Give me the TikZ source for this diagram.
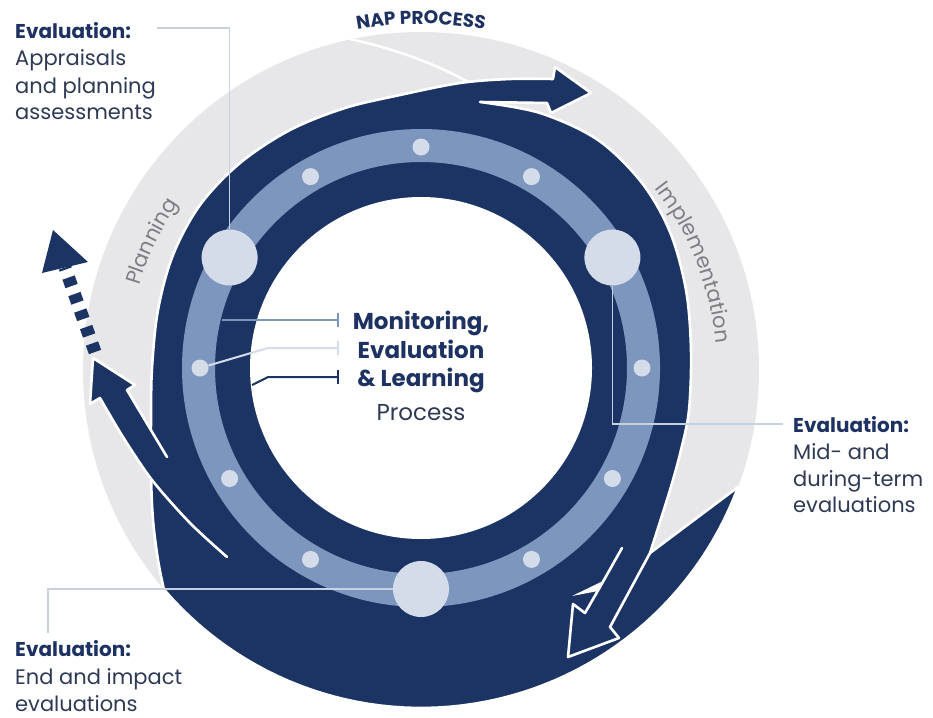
\documentclass[tikz,border=0pt]{standalone}
\usepackage{fontspec}
\setmainfont{Poppins}
\usetikzlibrary{decorations.text}

\definecolor{navy}{HTML}{1C3463}
\definecolor{ringblue}{HTML}{7D96BE}
\definecolor{dotpale}{HTML}{D4DCE9}
\definecolor{discgrey}{HTML}{E7E7E9}
\definecolor{leader}{HTML}{C7D1E1}
\definecolor{labeltext}{HTML}{2E3A54}
\definecolor{titletext}{HTML}{1E3262}
\definecolor{phasegrey}{HTML}{7E7F86}

\begin{document}
\begin{tikzpicture}[x=1pt, y=-1pt,
  rim/.style={draw=white, line width=2.6pt, line join=round, line cap=round},
  leaderline/.style={draw=leader, line width=1.5pt},
  smalldot/.style={circle, fill=dotpale, minimum size=17pt, inner sep=0pt},
  bigdot/.style={circle, fill=dotpale, minimum size=56pt, inner sep=0pt},
  headtxt/.style={font=\fontsize{20}{24}\selectfont\bfseries, text=titletext, anchor=base west, inner sep=0pt},
  bodytxt/.style={font=\fontsize{21}{24}\selectfont, text=labeltext, anchor=base west, inner sep=0pt},
  centretxt/.style={font=\fontsize{23}{28}\selectfont\bfseries, text=titletext, anchor=base, inner sep=0pt},
  tbar/.style={line width=2pt},
]
\useasboundingbox (0,0) rectangle (933,717);
\fill[white] (0,0) rectangle (933,717);

\coordinate (C) at (421,368);
\coordinate (G) at (421,370);

% outer grey disc of the NAP process
\fill[discgrey] (G) circle[radius=338];

% thin white sweep over the grey band
\draw[white, line width=2.5pt] (350,39) .. controls (400,50) and (440,66) .. (470,83);

% navy swoosh: ring, top arrow and lower sweep
\path[fill=navy, rim]
  plot[smooth, tension=0.55] coordinates {(164,590) (158,560) (153,520) (151,475) (151,420) (152,368) (158,310) (173,255) (200,205) (240,163) (290,130) (345,108) (400,95) (460,83) (510,79) (553,79)}
  -- (555,67) -- (591,93) -- (551,113) -- (547,103) -- (480,102)
  -- plot[smooth, tension=0.55] coordinates {(480,102) (540,113) (598,140) (642,183) (670,232) (686,290) (691,350) (689,410) (681,450) (670,490) (650,553)}
  -- (738,487)
  -- plot[domain=20.3:139.4, samples=60] ({421+338*cos(\x)},{370+338*sin(\x)})
  -- cycle;

% light blue ring and white core
\fill[ringblue, even odd rule] (C) circle[radius=239] (C) circle[radius=206];
\fill[white] (C) circle[radius=171];

% solid arrow on the left
\fill[navy] plot[smooth] coordinates {(227,557) (190,523) (152,480) (123,437) (100,398)}
  -- (90,404) -- (93,358) -- (135,385) -- (127,390) -- (167,457) -- (200,505) -- cycle;
\draw[rim] plot[smooth] coordinates {(227,557) (190,523) (152,480) (123,437) (100,398)}
  -- (90,404) -- (93,358) -- (135,385) -- (127,390) -- (167,457);

% dashed arrow
\coordinate (dashstart) at (95,352);
\coordinate (dashend) at (65,267.5);
\draw[navy, line width=13pt, dash pattern=on 9pt off 8.5pt] (dashstart) -- (dashend);
\fill[navy] (53,230) -- (42,273) -- (88,262) -- cycle;

% outlined arrow at the lower right
\draw[rim] (622,548) -- (600,587) -- (585,613) -- (573,604) -- (568,657) -- (619,638) -- (610,627) -- (650,553);
\fill[white] (572,596) -- (601,582) -- (598,591) -- cycle;

% dots on the ring
\foreach \a in {0,30,60,120,150,180,240,270,300}
  \path (C) ++(\a:221) node[smalldot] (s\a) {};
\foreach \a in {90,210,330}
  \path (C) ++(\a:221) node[bigdot] (b\a) {};

% label texts
\node[headtxt] (tlhead) at (15,39) {Evaluation:};
\node[bodytxt] (tl1) at (15,66) {Appraisals};
\node[bodytxt] (tl2) at (15,93) {and planning};
\node[bodytxt] (tl3) at (15,119) {assessments};

\node[headtxt] (rhead) at (793,432) {Evaluation:};
\node[bodytxt] (r1) at (793,459) {Mid- and};
\node[bodytxt] (r2) at (793,486) {during-term};
\node[bodytxt] (r3) at (793,512) {evaluations};

\node[headtxt] (bhead) at (15,656) {Evaluation:};
\node[bodytxt] (b1) at (15,684) {End and impact};
\node[bodytxt] (b2) at (15,711) {evaluations};

% leader lines from the large dots to the labels
\draw[leaderline] (b210.north) -- (b210.north |- 0,28) -- (157,28);
\draw[leaderline] (b330.south) -- (b330.south |- 0,424) -- (783,424);
\draw[leaderline] (b90.west) -- (48,589) -- (48,633);

% centre title with its three pointers
\node[centretxt] (mon) at (421,329) {Monitoring,};
\node[centretxt] (eva) at (421,358) {Evaluation};
\node[centretxt] (lea) at (421,386) {\& Learning};
\node[centretxt, font=\fontsize{23}{28}\selectfont, text=labeltext] (pro) at (421,420) {Process};

\coordinate (p1a) at (222,320);
\coordinate (p1b) at (338,320);
\draw[ringblue, tbar] (p1a) -- (p1b);
\draw[ringblue, tbar] (338,313) -- (338,327);

\coordinate (p2k) at (268,348);
\coordinate (p2b) at (338,348);
\draw[dotpale, tbar] (s180) -- (p2k) -- (p2b);
\draw[dotpale, tbar] (338,341) -- (338,355);

\coordinate (p3a) at (252,385);
\coordinate (p3k) at (268,377);
\coordinate (p3b) at (338,377);
\draw[navy, tbar] (p3a) -- (p3k) -- (p3b);
\draw[navy, tbar] (338,370) -- (338,384);

% curved phase names
\path[decorate, decoration={text along path, text align=center,
  text={|\fontsize{18.5}{18.5}\selectfont\bfseries\color{titletext}|NAP PROCESS}}]
  plot[domain=240:300, samples=61] ({421+346*cos(\x)},{370+346*sin(\x)});
\path[decorate, decoration={text along path, text align=center,
  text={|\fontsize{21}{21}\selectfont\color{phasegrey}|Planning}}]
  plot[domain=175:236, samples=61] ({421+294*cos(\x)},{370+294*sin(\x)});
\path[decorate, decoration={text along path, text align=center,
  text={|\fontsize{21}{21}\selectfont\color{phasegrey}|Implementation}}]
  plot[domain=308:369, samples=61] ({421+296*cos(\x)},{370+296*sin(\x)});
\end{tikzpicture}
\end{document}
